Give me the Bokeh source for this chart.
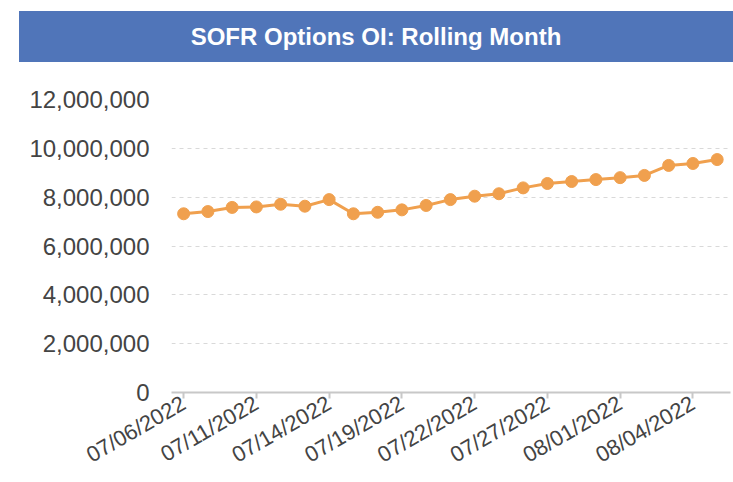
from bokeh.plotting import figure
from bokeh.layouts import column
from bokeh.models import Range1d, FixedTicker, NumeralTickFormatter, ColumnDataSource, Div
from bokeh.embed import file_html
from bokeh.resources import INLINE

title_text = "SOFR Options OI: Rolling Month"
dates = ["07/06/2022", "07/07/2022", "07/08/2022", "07/11/2022", "07/12/2022",
         "07/13/2022", "07/14/2022", "07/15/2022", "07/18/2022", "07/19/2022",
         "07/20/2022", "07/21/2022", "07/22/2022", "07/25/2022", "07/26/2022",
         "07/27/2022", "07/28/2022", "07/29/2022", "08/01/2022", "08/02/2022",
         "08/03/2022", "08/04/2022", "08/05/2022"]
oi = [7320000, 7410000, 7580000, 7600000, 7710000, 7630000, 7900000, 7320000,
      7380000, 7480000, 7660000, 7900000, 8040000, 8140000, 8380000, 8560000,
      8640000, 8720000, 8800000, 8890000, 9300000, 9380000, 9540000]
y_ticks = [0, 2000000, 4000000, 6000000, 8000000, 10000000, 12000000]

FONT = "Liberation Sans"
ORANGE = "#F0A04E"
BLUE = "#5075B9"

# Title bar
tb = Div(text=title_text, width=714, height=51, margin=(11, 0, 0, 19),
         styles={"background-color": BLUE, "color": "white",
                 "font-family": FONT, "font-weight": "bold",
                 "font-size": "24px", "text-align": "center",
                 "line-height": "51px"})

# Main chart
idx = list(range(len(dates)))
tick_idx = idx[::3]
src = ColumnDataSource(dict(x=idx, y=oi))
p = figure(width=733, height=420, x_range=Range1d(-0.5, 22.55),
           y_range=Range1d(0, 12000000), output_backend="svg",
           toolbar_location=None, min_border_left=171, min_border_right=3,
           min_border_top=37, min_border_bottom=90, margin=(0, 0, 0, 0))
p.outline_line_color = None
p.background_fill_color = "white"

p.line("x", "y", source=src, line_color=ORANGE, line_width=3)
p.scatter("x", "y", source=src, size=12, fill_color=ORANGE, line_color=ORANGE)

# x axis
p.xaxis.ticker = FixedTicker(ticks=tick_idx)
p.xaxis.major_label_overrides = {i: dates[i] for i in tick_idx}
p.xaxis.major_label_orientation = 0.5236
p.xaxis.axis_line_color = "#C8C8C8"
p.xaxis.axis_line_width = 2
p.xaxis.major_tick_line_color = "#C8C8C8"
p.xaxis.major_tick_line_width = 2
p.xaxis.major_tick_out = 6
p.xaxis.major_tick_in = 0
p.xaxis.minor_tick_line_color = None
p.xaxis.major_label_text_font = FONT
p.xaxis.major_label_text_font_size = "22px"
p.xaxis.major_label_text_color = "#444444"
p.xaxis.major_label_standoff = 3
p.xgrid.visible = False

# y axis
p.yaxis.ticker = FixedTicker(ticks=y_ticks)
p.yaxis.formatter = NumeralTickFormatter(format="0,0")
p.yaxis.axis_line_color = None
p.yaxis.major_tick_line_color = None
p.yaxis.minor_tick_line_color = None
p.yaxis.major_label_text_font = FONT
p.yaxis.major_label_text_font_size = "24px"
p.yaxis.major_label_text_color = "#444444"
p.yaxis.major_label_standoff = 16
p.ygrid.grid_line_color = "#D9D9D9"
p.ygrid.grid_line_dash = "4 4"
p.ygrid.grid_line_width = 1

layout = column(tb, p, spacing=0)
open("out.html", "w").write(file_html(layout, INLINE))
